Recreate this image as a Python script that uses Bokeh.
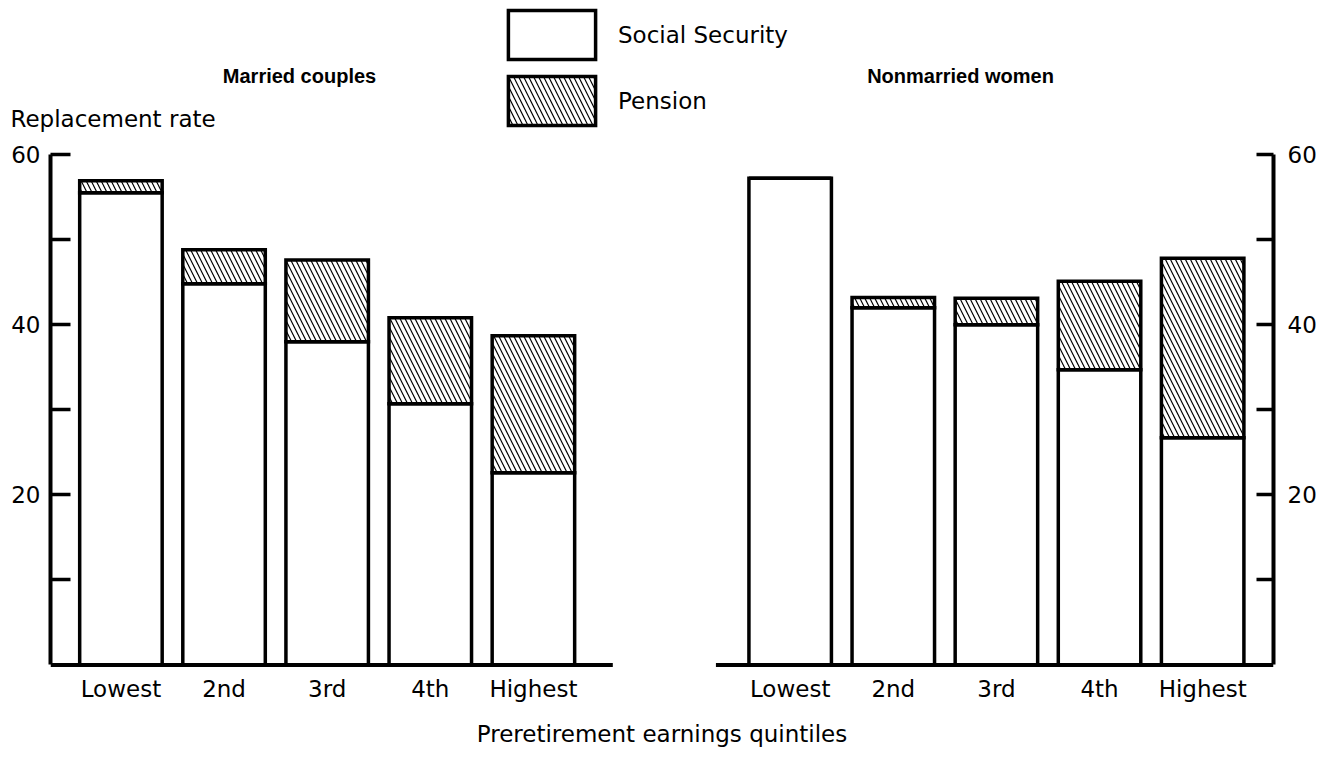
import numpy as np
from bokeh.plotting import figure
from bokeh.models import (Range1d, LinearAxis, FixedTicker, Legend, LegendItem,
                          Label, ColumnDataSource)
from bokeh.embed import file_html
from bokeh.resources import INLINE

# ---------------- data ----------------
quintiles = ["Lowest", "2nd", "3rd", "4th", "Highest"]
married_ss = [55.5, 44.8, 38.0, 30.7, 22.6]
married_pension = [1.4, 4.0, 9.6, 10.1, 16.1]
nonmarried_ss = [57.2, 42.0, 40.0, 34.7, 26.7]
nonmarried_pension = [0.0, 1.2, 3.1, 10.4, 21.1]
y_ticks = [10, 20, 30, 40, 50, 60]
y_labels = ["", "20", "", "40", "", "60"]
series_names = ["Social Security", "Pension"]

FONT = "DejaVu Sans"
BOLD = "Liberation Sans"
FS = "23px"
W = 1319
TOP_H = 135
MAIN_H = 750 - TOP_H

# ---------------- layout positions ----------------
left_x = [float(i) for i in range(len(quintiles))]
right_x = [round(i + 6.49, 2) for i in range(len(quintiles))]
bar_w = 0.8
x0, x1 = -0.683, 11.177
y0, y1 = -0.3, 60

bar_style = dict(line_color="black", line_width=3.5, line_join="miter")
ss_style = dict(fill_color="white")
hatch_style = dict(fill_color="white", hatch_pattern="left_diagonal_line",
                   hatch_color="black", hatch_scale=10, hatch_weight=1.2)

def make_source(xs, ss, pen):
    ss = np.array(ss, dtype=float)
    pen = np.array(pen, dtype=float)
    return ColumnDataSource(dict(x=xs, ss=ss, bottom=np.zeros_like(ss),
                                 pen_top=ss + pen))

# ================= main chart =================
src_l = make_source(left_x, married_ss, married_pension)
src_r = make_source(right_x, nonmarried_ss, nonmarried_pension)

p = figure(width=W, height=MAIN_H, x_range=Range1d(x0, x1), y_range=Range1d(y0, y1),
           output_backend="svg", toolbar_location=None, tools="",
           min_border_left=50, min_border_right=45, min_border_top=154 - TOP_H,
           min_border_bottom=83)
p.outline_line_color = None
p.xgrid.visible = False
p.ygrid.visible = False

for src in (src_l, src_r):
    p.vbar(x="x", width=bar_w, bottom="bottom", top="ss", source=src,
           **ss_style, **bar_style)
    p.vbar(x="x", width=bar_w, bottom="ss", top="pen_top", source=src,
           **hatch_style, **bar_style)

# baselines of the two panels
p.segment(x0=[x0, right_x[0] - 0.72], y0=[0, 0], x1=[left_x[-1] + 0.77, x1], y1=[0, 0],
          line_color="black", line_width=4)

xa = p.xaxis[0]
xa.ticker = FixedTicker(ticks=left_x + right_x)
xa.major_label_overrides = {x: q for x, q in zip(left_x + right_x, quintiles + quintiles)}
xa.axis_line_color = None
xa.major_tick_line_color = None
xa.minor_tick_line_color = None
xa.major_tick_in = 0
xa.major_tick_out = 0
xa.major_label_standoff = 8
xa.major_label_text_font = FONT
xa.major_label_text_font_size = FS
xa.major_label_text_color = "black"
xa.axis_label = "Preretirement earnings quintiles"
xa.axis_label_text_font = FONT
xa.axis_label_text_font_size = FS
xa.axis_label_text_font_style = "normal"
xa.axis_label_text_color = "black"
xa.axis_label_standoff = 16

def style_y(ax, tick_in, standoff):
    ax.ticker = FixedTicker(ticks=y_ticks)
    ax.major_label_overrides = {t: l for t, l in zip(y_ticks, y_labels)}
    ax.bounds = (0, 60)
    ax.axis_line_width = 4
    ax.axis_line_color = "black"
    ax.major_tick_line_width = 3.5
    ax.major_tick_line_color = "black"
    ax.major_tick_in = tick_in
    ax.major_tick_out = 0
    ax.minor_tick_line_color = None
    ax.major_label_standoff = standoff
    ax.major_label_text_font = FONT
    ax.major_label_text_font_size = FS
    ax.major_label_text_color = "black"

style_y(p.yaxis[0], 20, 10)
ra = LinearAxis()
style_y(ra, 17, 14)
p.add_layout(ra, "right")

# ================= header (titles + legend) =================
h = figure(width=W, height=TOP_H, x_range=Range1d(0, W), y_range=Range1d(0, TOP_H),
           output_backend="svg", toolbar_location=None, tools="",
           x_axis_location=None, y_axis_location=None,
           min_border_left=0, min_border_right=0, min_border_top=0, min_border_bottom=0)
h.outline_line_color = None
h.xgrid.visible = False
h.ygrid.visible = False

# legend proxies (same styles as the bars; not drawn on the canvas themselves)
proxy = ColumnDataSource(dict(x=[-5000.0], bottom=[-5000.0], top=[-4999.0]))
lg_ss = h.vbar(x="x", width=1, bottom="bottom", top="top", source=proxy,
               **ss_style, **bar_style)
lg_pen = h.vbar(x="x", width=1, bottom="bottom", top="top", source=proxy,
                **hatch_style, **bar_style)
lg_ss.visible = False
lg_pen.visible = False

legend = Legend(items=[LegendItem(label=series_names[0], renderers=[lg_ss]),
                       LegendItem(label=series_names[1], renderers=[lg_pen])],
                location=(497, TOP_H - 131), glyph_width=109, glyph_height=61, spacing=5,
                label_standoff=12, padding=0, margin=0, border_line_alpha=0,
                background_fill_alpha=0, inactive_fill_alpha=0,
                label_text_font=FONT, label_text_font_size=FS,
                label_text_color="black")
h.add_layout(legend)

h.add_layout(Label(x=10, y=TOP_H - 118, x_units="screen", y_units="screen",
                   text="Replacement rate", text_font=FONT, text_font_size=FS,
                   text_align="left", text_baseline="middle", text_color="black"))
h.add_layout(Label(x=299, y=TOP_H - 75, x_units="screen", y_units="screen",
                   text="Married couples", text_font=BOLD, text_font_size="20px",
                   text_font_style="bold", text_align="center", text_baseline="middle",
                   text_color="black"))
h.add_layout(Label(x=960, y=TOP_H - 75, x_units="screen", y_units="screen",
                   text="Nonmarried women", text_font=BOLD, text_font_size="20px",
                   text_font_style="bold", text_align="center", text_baseline="middle",
                   text_color="black"))

# two independent roots stacked on the page (no frame alignment between them)
open("out.html", "w").write(file_html([h, p], INLINE))
